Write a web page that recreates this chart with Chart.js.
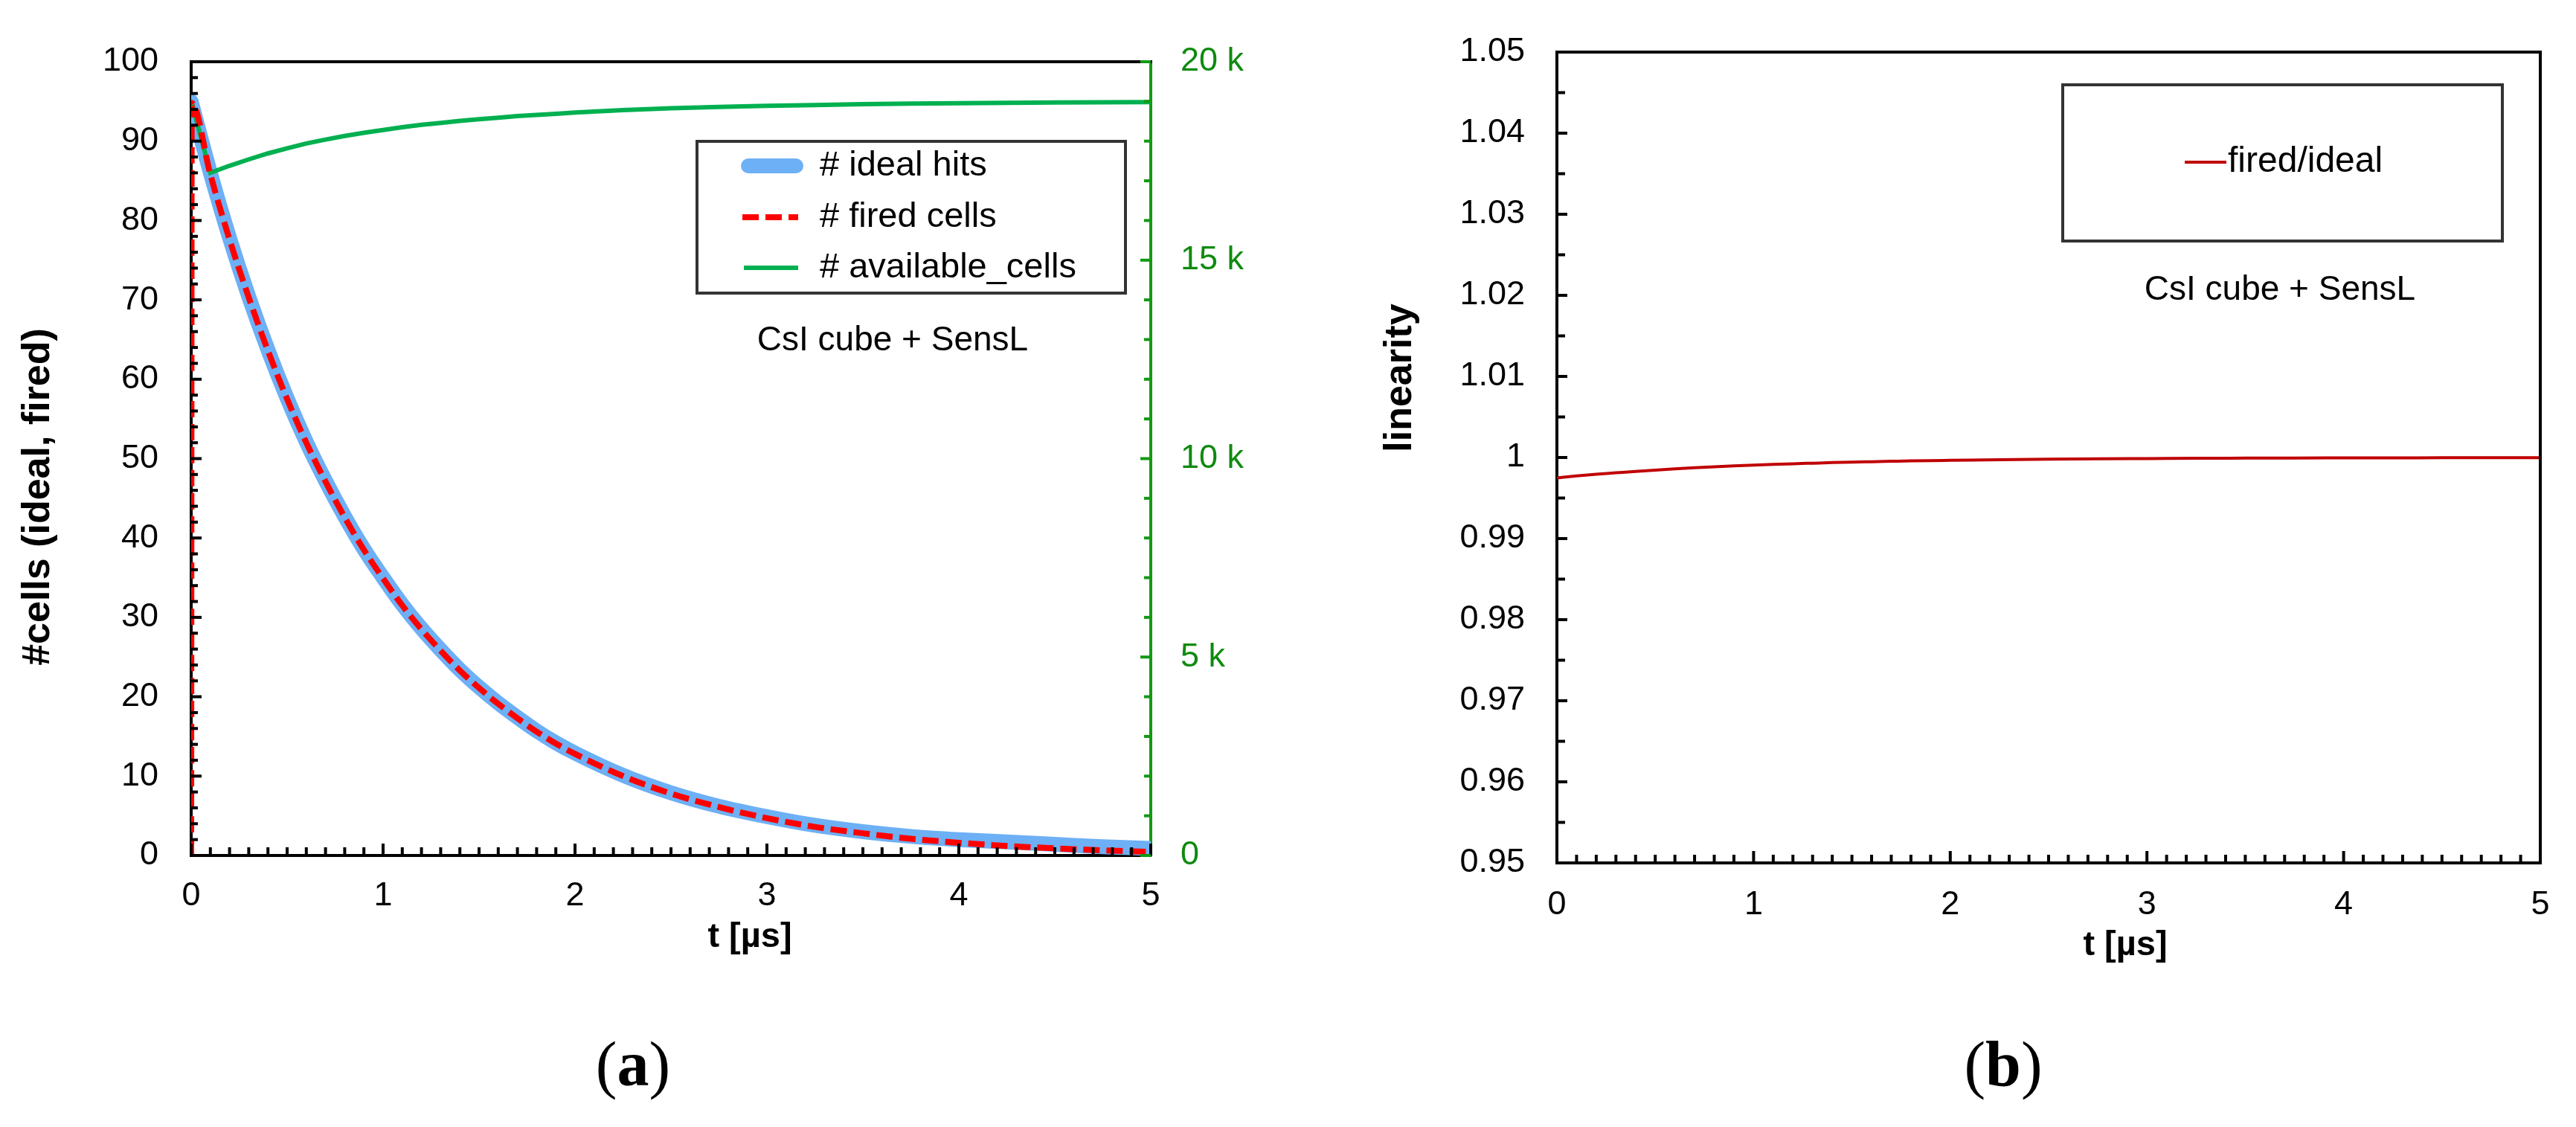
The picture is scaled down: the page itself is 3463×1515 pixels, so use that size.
<!DOCTYPE html>
<html>
<head>
<meta charset="utf-8">
<script src="https://cdn.jsdelivr.net/npm/chart.js@4.4.1/dist/chart.umd.min.js"></script>
<style>
  html, body { margin: 0; padding: 0; background: #fff; overflow: hidden; }
  #wrap { position: relative; width: 3463px; height: 1515px; background: #fff; }
  canvas { position: absolute; top: 0; }
  #chartA { left: 0; }
  #chartB { left: 1750px; }
</style>
</head>
<body>
<div id="wrap">
  <canvas id="chartA" width="1750" height="1515"></canvas>
  <canvas id="chartB" width="1713" height="1515"></canvas>
</div>
<script>
// time axis (µs)
const tValues = [0, 0.1, 0.2, 0.3, 0.4, 0.5, 0.6, 0.7, 0.8, 0.9, 1.0, 1.1, 1.2, 1.3, 1.4, 1.5, 1.6, 1.7, 1.8, 1.9, 2.0,
                 2.25, 2.5, 2.75, 3.0, 3.25, 3.5, 3.75, 4.0, 4.25, 4.5, 4.75, 5.0];
// # ideal hits (left axis)
const idealHits = [95.0, 86.0, 77.8, 70.4, 63.7, 57.6, 52.1, 47.2, 42.7, 38.6, 35.0, 31.6, 28.6, 25.9, 23.4, 21.2, 19.2, 17.4, 15.7, 14.2, 12.9,
                   10.1, 7.9, 6.2, 4.9, 3.8, 3.0, 2.4, 2.0, 1.7, 1.4, 1.1, 0.9];
// # fired cells (left axis) - starts at 0 and jumps up right at t = 0
const tFired = [0, 0.003, 0.1, 0.2, 0.3, 0.4, 0.5, 0.6, 0.7, 0.8, 0.9, 1.0, 1.1, 1.2, 1.3, 1.4, 1.5, 1.6, 1.7, 1.8, 1.9, 2.0,
                2.25, 2.5, 2.75, 3.0, 3.25, 3.5, 3.75, 4.0, 4.25, 4.5, 4.75, 5.0];
const firedCells = [0, 94.8, 85.8, 77.6, 70.3, 63.6, 57.5, 52.0, 47.1, 42.6, 38.5, 34.9, 31.5, 28.5, 25.8, 23.3, 21.1, 19.1, 17.3, 15.6, 14.1, 12.8,
                    10.0, 7.8, 6.1, 4.7, 3.6, 2.8, 2.1, 1.6, 1.2, 0.9, 0.65, 0.45];
// # available cells (right axis)
const availableCells = [19020, 17200, 17380, 17540, 17690, 17820, 17940, 18040, 18130, 18210, 18280, 18350, 18410, 18460, 18510, 18550, 18590, 18630, 18660, 18690, 18720,
                        18780, 18830, 18860, 18890, 18910, 18930, 18945, 18955, 18965, 18975, 18980, 18985];
// fired/ideal (panel b)
const linearity = [0.99748, 0.99772, 0.99793, 0.99811, 0.99829, 0.99845, 0.99860, 0.99873, 0.99885, 0.99896, 0.99906, 0.99915, 0.99923, 0.99930, 0.99937, 0.99943, 0.99948, 0.99953, 0.99958, 0.99962, 0.99965,
                   0.99973, 0.99979, 0.99984, 0.99987, 0.99990, 0.99992, 0.99994, 0.99995, 0.99996, 0.99997, 0.99998, 0.99998];

// tick labels
const tTicks = ['0', '1', '2', '3', '4', '5'];
const cellTicks = ['0', '10', '20', '30', '40', '50', '60', '70', '80', '90', '100'];
const availTickValues = [0, 5000, 10000, 15000, 20000];
const availTicks = ['0', '5 k', '10 k', '15 k', '20 k'];
const linTicks = ['0.95', '0.96', '0.97', '0.98', '0.99', '1', '1.01', '1.02', '1.03', '1.04', '1.05'];

const SANS = "'Liberation Sans', Arial, sans-serif";
const SERIF = "'Liberation Serif', 'Times New Roman', serif";

function pairs(xs, ys) {
  return xs.map((x, i) => ({ x: x, y: ys[i] }));
}

// fixed scale sizes so the plot boxes land where they are in the picture
function fixWidth(w) { return s => { s.width = w; }; }
function fixHeight(h) { return s => { s.height = h; }; }
function ticksFrom(values) { return s => { s.ticks = values.map(v => ({ value: v })); }; }

// frame, inward minor/major ticks, legend box and free texts
const decor = {
  id: 'decor',
  afterDatasetsDraw(chart, args, opts) {
    const ctx = chart.ctx, a = chart.chartArea;
    ctx.save();
    (opts.frame || []).forEach(f => {
      ctx.strokeStyle = f.color;
      ctx.lineWidth = f.width;
      ctx.beginPath();
      if (f.side === 'top') { ctx.moveTo(a.left - 2, a.top); ctx.lineTo(a.right + 2, a.top); }
      if (f.side === 'right') { ctx.moveTo(a.right, a.top - 2); ctx.lineTo(a.right, a.bottom + 2); }
      ctx.stroke();
    });

    (opts.ticks || []).forEach(tk => {
      const s = chart.scales[tk.scale];
      const n = Math.round((s.max - s.min) / tk.minor);
      ctx.strokeStyle = tk.color;
      ctx.lineWidth = tk.width;
      for (let i = 0; i <= n; i++) {
        const v = s.min + i * tk.minor;
        const r = v / tk.major;
        const len = Math.abs(r - Math.round(r)) < 1e-6 ? tk.majorLen : tk.minorLen;
        const p = s.getPixelForValue(v);
        ctx.beginPath();
        if (s.position === 'left') { ctx.moveTo(a.left, p); ctx.lineTo(a.left + len, p); }
        else if (s.position === 'right') { ctx.moveTo(a.right, p); ctx.lineTo(a.right - len, p); }
        else { ctx.moveTo(p, a.bottom); ctx.lineTo(p, a.bottom - len); }
        ctx.stroke();
      }
    });

    const lg = opts.legend;
    if (lg) {
      ctx.fillStyle = '#fff';
      ctx.fillRect(lg.x, lg.y, lg.w, lg.h);
      ctx.strokeStyle = '#333';
      ctx.lineWidth = 4;
      ctx.setLineDash([]);
      ctx.strokeRect(lg.x, lg.y, lg.w, lg.h);
      lg.items.forEach(it => {
        const ds = chart.data.datasets[it.dataset];
        ctx.save();
        ctx.strokeStyle = ds.borderColor;
        ctx.lineWidth = ds.borderWidth;
        ctx.setLineDash(ds.borderDash || []);
        ctx.lineCap = ds.borderCapStyle || 'butt';
        ctx.beginPath();
        ctx.moveTo(it.x1, it.y);
        ctx.lineTo(it.x2, it.y);
        ctx.stroke();
        ctx.restore();
        ctx.fillStyle = '#000';
        ctx.font = lg.font;
        ctx.textAlign = 'left';
        ctx.textBaseline = 'middle';
        ctx.fillText(ds.label, it.tx, it.y);
      });
    }

    (opts.texts || []).forEach(t => {
      ctx.save();
      ctx.translate(t.x, t.y);
      if (t.rotate) ctx.rotate(t.rotate);
      ctx.fillStyle = t.color || '#000';
      ctx.textBaseline = 'middle';
      if (t.parts) {
        // mixed-font label like "(a)"
        let total = 0;
        t.parts.forEach(p => { ctx.font = p.font; total += ctx.measureText(p.text).width; });
        let x = -total / 2;
        ctx.textAlign = 'left';
        t.parts.forEach(p => { ctx.font = p.font; ctx.fillText(p.text, x, 0); x += ctx.measureText(p.text).width; });
      } else {
        ctx.font = t.font;
        ctx.textAlign = 'center';
        ctx.fillText(t.text, 0, 0);
      }
      ctx.restore();
    });
    ctx.restore();
  }
};

function panelLabel(letter, x, y) {
  return {
    x: x, y: y,
    parts: [
      { text: '(', font: '86px ' + SERIF },
      { text: letter, font: 'bold 86px ' + SERIF },
      { text: ')', font: '86px ' + SERIF }
    ]
  };
}

const tickFont = { family: SANS, size: 45 };

// ---------- panel (a) ----------
new Chart(document.getElementById('chartA'), {
  type: 'line',
  data: {
    datasets: [
      {
        label: '# ideal hits',
        data: pairs(tValues, idealHits),
        yAxisID: 'y',
        borderColor: '#6DB0F5',
        borderWidth: 20,
        borderCapStyle: 'round',
        borderJoinStyle: 'round',
        pointRadius: 0,
        cubicInterpolationMode: 'monotone',
        clip: { left: 0, right: 0, top: 0, bottom: 3 },
        order: 3
      },
      {
        label: '# fired cells',
        data: pairs(tFired, firedCells),
        yAxisID: 'y',
        borderColor: '#FF0000',
        borderWidth: 8,
        borderDash: [22, 9],
        pointRadius: 0,
        cubicInterpolationMode: 'monotone',
        order: 1
      },
      {
        label: '# available_cells',
        data: pairs(tValues, availableCells),
        yAxisID: 'y2',
        borderColor: '#00B050',
        borderWidth: 6,
        pointRadius: 0,
        tension: 0,
        order: 2
      }
    ]
  },
  options: {
    responsive: false,
    devicePixelRatio: 1,
    animation: false,
    events: [],
    layout: { padding: { top: 83, left: 0, right: 0, bottom: 0 } },
    scales: {
      x: {
        type: 'linear', min: 0, max: 5,
        afterBuildTicks: ticksFrom(tTicks.map(Number)),
        afterFit: fixHeight(365),
        grid: { display: false, drawTicks: false },
        border: { display: true, color: '#000', width: 4 },
        ticks: { font: tickFont, color: '#000', padding: 28, maxRotation: 0, autoSkip: false,
                 callback: (v, i) => tTicks[i] }
      },
      y: {
        type: 'linear', position: 'left', min: 0, max: 100,
        afterBuildTicks: ticksFrom(cellTicks.map(Number)),
        afterFit: fixWidth(257),
        grid: { display: false, drawTicks: false },
        border: { display: true, color: '#000', width: 4 },
        ticks: { font: tickFont, color: '#000', padding: 44, autoSkip: false,
                 callback: (v, i) => cellTicks[i] }
      },
      y2: {
        type: 'linear', position: 'right', min: 0, max: 20000,
        afterBuildTicks: ticksFrom(availTickValues),
        afterFit: fixWidth(203),
        grid: { display: false, drawTicks: false },
        border: { display: true, color: '#129a12', width: 4 },
        ticks: { font: tickFont, color: '#0f8a0f', padding: 40, autoSkip: false,
                 callback: (v, i) => availTicks[i] }
      }
    },
    plugins: {
      legend: { display: false },
      tooltip: { enabled: false },
      decor: {
        frame: [{ side: 'top', color: '#000', width: 4 }],
        ticks: [
          { scale: 'x', minor: 0.1, major: 1, minorLen: 11, majorLen: 16, color: '#000', width: 4 },
          { scale: 'y', minor: 2, major: 10, minorLen: 9, majorLen: 14, color: '#000', width: 4 },
          { scale: 'y2', minor: 1000, major: 5000, minorLen: 9, majorLen: 14, color: '#129a12', width: 4 }
        ],
        legend: {
          x: 937, y: 190, w: 576, h: 204, font: '47px ' + SANS,
          items: [
            { dataset: 0, x1: 1006, x2: 1070, y: 223, tx: 1102 },
            { dataset: 1, x1: 998, x2: 1073, y: 292, tx: 1102 },
            { dataset: 2, x1: 1000, x2: 1073, y: 360, tx: 1102 }
          ]
        },
        texts: [
          { text: 'CsI cube + SensL', x: 1200, y: 458, font: '46px ' + SANS },
          { text: '#cells (ideal, fired)', x: 52, y: 668, rotate: -Math.PI / 2, font: 'bold 52px ' + SANS },
          { text: 't [\u00b5s]', x: 1008, y: 1260, font: 'bold 47px ' + SANS },
          panelLabel('a', 851, 1437)
        ]
      }
    }
  },
  plugins: [decor]
});

// ---------- panel (b) ----------
new Chart(document.getElementById('chartB'), {
  type: 'line',
  data: {
    datasets: [
      {
        label: 'fired/ideal',
        data: pairs(tValues, linearity),
        borderColor: '#C00000',
        borderWidth: 4,
        pointRadius: 0,
        cubicInterpolationMode: 'monotone'
      }
    ]
  },
  options: {
    responsive: false,
    devicePixelRatio: 1,
    animation: false,
    events: [],
    layout: { padding: { top: 65, left: 0, right: 48, bottom: 0 } },
    scales: {
      x: {
        type: 'linear', min: 0, max: 5,
        afterBuildTicks: ticksFrom(tTicks.map(Number)),
        afterFit: fixHeight(355),
        grid: { display: false, drawTicks: false },
        border: { display: true, color: '#000', width: 4 },
        ticks: { font: tickFont, color: '#000', padding: 30, maxRotation: 0, autoSkip: false,
                 callback: (v, i) => tTicks[i] }
      },
      y: {
        type: 'linear', position: 'left', min: 0.95, max: 1.05,
        afterBuildTicks: ticksFrom(linTicks.map(Number)),
        afterFit: fixWidth(343),
        grid: { display: false, drawTicks: false },
        border: { display: true, color: '#000', width: 4 },
        ticks: { font: tickFont, color: '#000', padding: 43, autoSkip: false,
                 callback: (v, i) => linTicks[i] }
      }
    },
    plugins: {
      legend: { display: false },
      tooltip: { enabled: false },
      decor: {
        frame: [
          { side: 'top', color: '#000', width: 4 },
          { side: 'right', color: '#000', width: 4 }
        ],
        ticks: [
          { scale: 'x', minor: 0.1, major: 1, minorLen: 11, majorLen: 16, color: '#000', width: 4 },
          { scale: 'y', minor: 0.005, major: 0.01, minorLen: 11, majorLen: 14, color: '#000', width: 4 }
        ],
        legend: {
          x: 1023, y: 114, w: 591, h: 210, font: '48px ' + SANS,
          items: [
            { dataset: 0, x1: 1187, x2: 1243, y: 218, tx: 1245 }
          ]
        },
        texts: [
          { text: 'CsI cube + SensL', x: 1315, y: 390, font: '46px ' + SANS },
          { text: 'linearity', x: 133, y: 508, rotate: -Math.PI / 2, font: 'bold 52px ' + SANS },
          { text: 't [\u00b5s]', x: 1107, y: 1271, font: 'bold 47px ' + SANS },
          panelLabel('b', 943, 1437)
        ]
      }
    }
  },
  plugins: [decor]
});
</script>
</body>
</html>
